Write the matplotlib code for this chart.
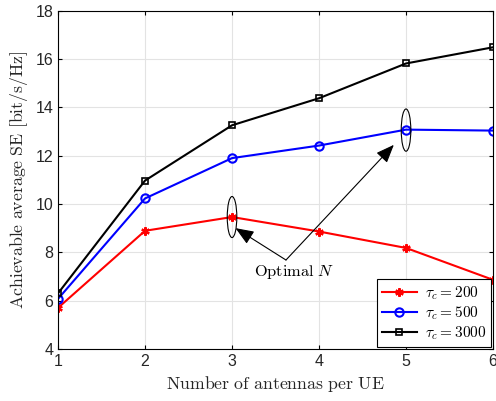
import matplotlib.pyplot as plt
from matplotlib.patches import Ellipse

plt.rcParams['mathtext.fontset'] = 'cm'

# data
antennas = [1, 2, 3, 4, 5, 6]
se_200 = [5.70, 8.89, 9.46, 8.86, 8.18, 6.86]
se_500 = [6.07, 10.23, 11.90, 12.42, 13.08, 13.04]
se_3000 = [6.30, 10.97, 13.26, 14.38, 15.82, 16.49]
labels = [r'$\tau_c = 200$', r'$\tau_c = 500$', r'$\tau_c = 3000$']

fig = plt.figure(figsize=(4.96, 4.01), dpi=100)
ax = fig.add_axes([0.117, 0.130, 0.877, 0.843])

ax.plot(antennas, se_200, color='red', marker=(6, 2, 0), markersize=6, mew=1.6, lw=1.5, label=labels[0])
ax.plot(antennas, se_500, color='blue', marker='o', markersize=6, mfc='none', mew=1.5, lw=1.5, label=labels[1])
ax.plot(antennas, se_3000, color='black', marker='s', markersize=5, mfc='none', mew=1.2, lw=1.5, label=labels[2])

# ellipses marking the optimum
ax.add_patch(Ellipse((3, 9.46), 0.11, 1.7, fill=False, ec='black', lw=0.8, zorder=5))
ax.add_patch(Ellipse((5, 13.06), 0.11, 1.75, fill=False, ec='black', lw=0.8, zorder=5))

# arrows from the label
arrow = dict(arrowstyle='-|>,head_length=0.7,head_width=0.28', color='black', lw=0.8,
             mutation_scale=16, shrinkA=0, shrinkB=0)
ax.annotate('', xy=(3.04, 9.0), xytext=(3.62, 7.68), arrowprops=arrow)
ax.annotate('', xy=(4.86, 12.45), xytext=(3.62, 7.68), arrowprops=arrow)
ax.text(3.72, 7.2, r'$\mathrm{Optimal}\ N$', ha='center', va='center', fontsize=11.8)

ax.set_xlim(1, 6)
ax.set_ylim(4, 18)
ax.set_xticks(antennas)
ax.set_yticks(range(4, 19, 2))
ax.grid(True, color='#e3e3e3', lw=0.8)
ax.set_axisbelow(True)
ax.tick_params(direction='in', top=True, right=True, labelsize=11.5, length=3)
for t in ax.get_xticklabels() + ax.get_yticklabels():
    t.set_fontfamily('Liberation Sans')
    t.set_color('#262626')

ax.set_xlabel(r'$\mathrm{Number\ of\ antennas\ per\ UE}$', fontsize=12.8, color='#262626')
ax.set_ylabel(r'$\mathrm{Achievable\ average\ SE\ [bit/s/Hz]}$', fontsize=12.8, color='#262626')

leg = ax.legend(loc='lower right', fontsize=11, fancybox=False, edgecolor='black',
                framealpha=1, borderaxespad=0.1, handlelength=2.3, labelspacing=0.15,
                borderpad=0.35, handletextpad=0.5)
leg.get_frame().set_linewidth(0.8)

fig.savefig('out.png', dpi=100)
